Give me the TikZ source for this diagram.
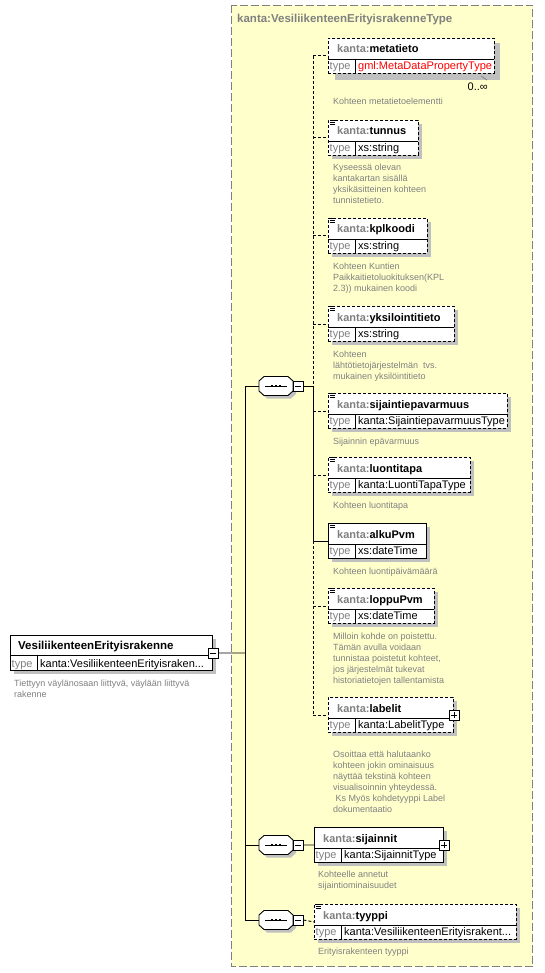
\documentclass[tikz,border=0pt]{standalone}
\usepackage{fontspec}
\setmainfont{Liberation Sans}
\definecolor{bgyellow}{HTML}{FFFFCC}
\definecolor{txtgray}{HTML}{808080}
\definecolor{shadowgray}{HTML}{C0C0C0}
\definecolor{framegray}{HTML}{808080}
\definecolor{typered}{HTML}{FF0000}
\tikzset{
 dsh/.style={dash pattern=on 3pt off 2pt},
 sld/.style={},
 elbox/.style={draw=black, fill=white, line width=0.9pt, inner sep=0pt, minimum height=35pt},
 nametext/.style={anchor=base west, inner sep=0pt, font=\fontsize{11}{13}\selectfont\bfseries},
 typelab/.style={anchor=base west, inner sep=0pt, text=txtgray, font=\fontsize{11}{13}\selectfont},
 typeval/.style={anchor=base west, inner sep=0pt, font=\fontsize{11}{13}\selectfont},
 desc/.style={anchor=base west, inner sep=0pt, align=left, text=txtgray, font=\fontsize{9}{11}\selectfont},
 conn/.style={line width=0.9pt},
 pmbox/.style={draw=black, fill=white, line width=0.8pt, minimum size=10pt, inner sep=0pt},
}
\newcommand{\xelem}[8]{%
  \fill[shadowgray] (#3+4,#4+4) rectangle (#3+#5+4,#4+39);
  \node[elbox,#2,minimum width=#5pt,anchor=north west] (#1) at (#3,#4) {};
  \draw[line width=0.9pt] (#3,#4+21) -- (#3+#5,#4+21);
  \draw[line width=0.9pt] (#3+27,#4+21) -- (#3+27,#4+35);
  \node[nametext] (#1-n) at (#3+9,#4+15) {\textcolor{txtgray}{kanta:}#6};
  \node[typelab] (#1-tl) at (#3+1.5,#4+31.5) {type};
  \node[typeval,text=#8] (#1-tv) at (#3+30,#4+31.5) {#7};
}
\newcommand{\xicon}[2]{%
  \foreach \k in {0,2,4}{\draw[line width=0.8pt] (#1+1.5,#2+\k+0.5) -- (#1+7,#2+\k+0.5);}%
}
\newcommand{\xplus}[1]{%
  \node[pmbox] (#1-p) at (#1.east) {};
  \draw[line width=0.8pt] ([xshift=-3pt]#1-p.center) -- ([xshift=3pt]#1-p.center)
     ([yshift=-3pt]#1-p.center) -- ([yshift=3pt]#1-p.center);
}
\newcommand{\xseq}[3]{%
  \fill[shadowgray] (#2-14,#3-2) -- (#2-9,#3-6.5) -- (#2+15,#3-6.5) -- (#2+20,#3-2) -- (#2+20,#3+8) -- (#2+15,#3+12.5) -- (#2-9,#3+12.5) -- (#2-14,#3+8) -- cycle;
  \node[minimum width=34pt, minimum height=19pt, inner sep=0pt] (#1) at (#2,#3) {};
  \draw[fill=white, line width=0.9pt] (#2-17,#3-5) -- (#2-12,#3-9.5) -- (#2+12,#3-9.5) -- (#2+17,#3-5) -- (#2+17,#3+5) -- (#2+12,#3+9.5) -- (#2-12,#3+9.5) -- (#2-17,#3+5) -- cycle;
  \draw[line width=0.9pt] (#2-11,#3) -- (#2+11,#3);
  \foreach \d in {-4,0,4}{\fill (#2+\d-1.4,#3-1.4) rectangle (#2+\d+1.4,#3+1.4);}
  \node[pmbox] (#1-m) at (#2+22,#3) {};
  \draw[line width=0.8pt] ([xshift=-3pt]#1-m.center) -- ([xshift=3pt]#1-m.center);
}
\begin{document}
\begin{tikzpicture}[x=1pt,y=-1pt]
\useasboundingbox (0,0) rectangle (544,973);
\fill[white] (0,0) rectangle (544,973);
% container
\draw[fill=bgyellow, draw=framegray, line width=1pt, dash pattern=on 8pt off 3pt] (231.5,5.5) rectangle (532.5,966.5);
\node[anchor=base west, inner sep=0pt, text=txtgray, font=\fontsize{11.5}{13}\selectfont\bfseries] (title) at (237,23) {kanta:VesiliikenteenErityisrakenneType};

% main element
\fill[shadowgray] (14,639) rectangle (216,674);
\node[elbox, minimum width=202pt, anchor=north west] (main) at (10,635) {};
\draw[line width=0.9pt] (10,655) -- (212,655);
\draw[line width=0.9pt] (37,655) -- (37,670);
\node[anchor=base west, inner sep=0pt, font=\fontsize{11.5}{13}\selectfont\bfseries] (main-n) at (18,649) {VesiliikenteenErityisrakenne};
\node[typelab] (main-tl) at (11.5,667) {type};
\node[typeval] (main-tv) at (40,667) {kanta:VesiliikenteenErityisraken...};
\node[pmbox] (main-m) at (main.east) {};
\draw[line width=0.8pt] ([xshift=-3pt]main-m.center) -- ([xshift=3pt]main-m.center);
\node[desc] (main-d) at (14,697) {Tiettyyn väylänosaan liittyvä, väylään liittyvä\\rakenne};

% sequences
\xseq{s1}{276}{386}
\xseq{s2}{276}{845}
\xseq{s3}{276}{920}

% elements of sequence 1
\fill[shadowgray] (335,43) rectangle (500,80);
\node[elbox,dsh,minimum width=166pt,anchor=north west] (meta) at (328,38) {};
\draw[line width=0.9pt] (328,59) -- (494,59);
\draw[line width=0.9pt] (355,59) -- (355,73);
\node[nametext] (meta-n) at (337,53) {\textcolor{txtgray}{kanta:}metatieto};
\node[typelab] (meta-tl) at (329.5,69.5) {type};
\node[typeval,text=typered] (meta-tv) at (358,69.5) {gml:MetaDataPropertyType};
\draw[txtgray, line width=0.8pt] (481,76) -- (487,80);
\node[anchor=base east, inner sep=0pt, font=\fontsize{11}{13}\selectfont] (meta-o) at (488,91) {0..∞};
\node[desc] (meta-d) at (333,105) {Kohteen metatietoelementti};

\xelem{tunnus}{dsh}{328}{120}{90}{tunnus}{xs:string}{black}
\xicon{328}{120}
\node[desc] (tunnus-d) at (333,204) {Kyseessä olevan\\kantakartan sisällä\\yksikäsitteinen kohteen\\tunnistetieto.};

\xelem{kpl}{dsh}{328}{218}{99}{kplkoodi}{xs:string}{black}
\xicon{328}{218}
\node[desc] (kpl-d) at (333,291) {Kohteen Kuntien\\Paikkaitietoluokituksen(KPL\\2.3)) mukainen koodi};

\xelem{yks}{dsh}{328}{306}{126}{yksilointitieto}{xs:string}{black}
\xicon{328}{306}
\node[desc] (yks-d) at (333,379) {Kohteen\\lähtötietojärjestelmän\ \ tvs.\\mukainen yksilöintitieto};

\xelem{sij}{dsh}{328}{393}{179}{sijaintiepavarmuus}{kanta:SijaintiepavarmuusType}{black}
\xicon{328}{393}
\node[desc] (sij-d) at (333,444) {Sijainnin epävarmuus};

\xelem{luo}{dsh}{328}{457}{142}{luontitapa}{kanta:LuontiTapaType}{black}
\xicon{328}{457}
\node[desc] (luo-d) at (333,508) {Kohteen luontitapa};

\xelem{alku}{sld}{328}{523}{98}{alkuPvm}{xs:dateTime}{black}
\xicon{328}{523}
\node[desc] (alku-d) at (333,574) {Kohteen luontipäivämäärä};

\xelem{loppu}{dsh}{328}{588}{106}{loppuPvm}{xs:dateTime}{black}
\xicon{328}{588}
\node[desc] (loppu-d) at (333,683) {Milloin kohde on poistettu.\\Tämän avulla voidaan\\tunnistaa poistetut kohteet,\\jos järjestelmät tukevat\\historiatietojen tallentamista};

\xelem{lab}{dsh}{328}{697}{125}{labelit}{kanta:LabelitType}{black}
\xplus{lab}
\node[desc] (lab-d) at (333,812) {Osoittaa että halutaanko\\kohteen jokin ominaisuus\\näyttää tekstinä kohteen\\visualisoinnin yhteydessä.\\\ Ks Myös kohdetyyppi Label\\dokumentaatio};

% sequence 2 and 3 elements
\xelem{sijn}{sld}{314}{827}{129}{sijainnit}{kanta:SijainnitType}{black}
\xplus{sijn}
\node[desc] (sijn-d) at (318,888) {Kohteelle annetut\\sijaintiominaisuudet};

\xelem{tyy}{dsh}{314}{904}{202}{tyyppi}{kanta:VesiliikenteenErityisrakent...}{black}
\xicon{314}{904}
\node[desc] (tyy-d) at (318,954) {Erityisrakenteen tyyppi};

% connectors
\coordinate (trunk) at (245,653);
\coordinate (br1) at (313,386);
\draw[conn] (main-m.east) -- (trunk);
\draw[conn] (s1.west -| trunk) -- (s3.west -| trunk);
\draw[conn] (s1.west -| trunk) -- (s1.west);
\draw[conn] (s2.west -| trunk) -- (s2.west);
\draw[conn] (s3.west -| trunk) -- (s3.west);
\draw[conn] (s1-m.east) -- (br1);
\draw[conn,dsh] (br1 |- meta.west) -- (br1);
\draw[conn] (br1) -- (br1 |- alku.west);
\draw[conn,dsh] (br1 |- alku.west) -- (br1 |- lab.west);
\draw[conn,dsh] (br1 |- meta.west) -- (meta.west);
\draw[conn,dsh] (br1 |- tunnus.west) -- (tunnus.west);
\draw[conn,dsh] (br1 |- kpl.west) -- (kpl.west);
\draw[conn,dsh] (br1 |- yks.west) -- (yks.west);
\draw[conn,dsh] (br1 |- sij.west) -- (sij.west);
\draw[conn,dsh] (br1 |- luo.west) -- (luo.west);
\draw[conn] (br1 |- alku.west) -- (alku.west);
\draw[conn,dsh] (br1 |- loppu.west) -- (loppu.west);
\draw[conn,dsh] (br1 |- lab.west) -- (lab.west);
\draw[conn] (s2-m.east) -- (sijn.west);
\draw[conn,dsh] (s3-m.east) -- (tyy.west);
\end{tikzpicture}
\end{document}
